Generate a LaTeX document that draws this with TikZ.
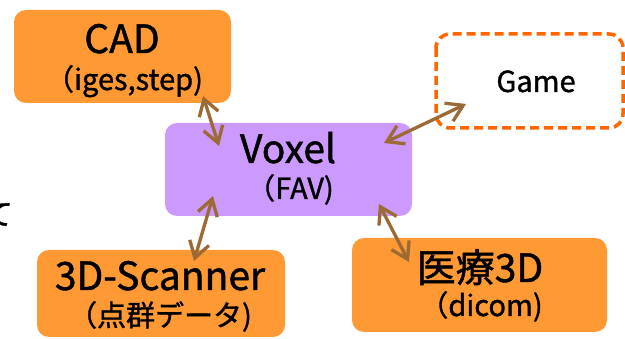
\documentclass[tikz,border=0pt]{standalone}
\usepackage{fontspec}
\setmainfont{Noto Sans CJK JP}[UprightFeatures={FakeBold=1.2}]
\usetikzlibrary{arrows.meta}
\definecolor{boxorange}{HTML}{FF9933}
\definecolor{boxviolet}{HTML}{CC99FF}
\definecolor{dashorange}{HTML}{FF6600}
\definecolor{arrowbrown}{HTML}{9C6A34}
\tikzset{
  obox/.style={fill=boxorange, draw=none, rounded corners=12pt},
  vbox/.style={fill=boxviolet, draw=none, rounded corners=12pt},
  gbox/.style={draw=dashorange, line width=3.5pt, dash pattern=on 9pt off 5pt, rounded corners=14pt},
  title/.style={anchor=base, inner sep=0pt, font=\fontsize{39}{44}\selectfont},
  sub/.style={anchor=base, inner sep=0pt, font=\fontsize{29}{33}\selectfont},
  conn/.style={draw=arrowbrown, line width=3.3pt, line cap=round, line join=round,
    {Straight Barb[length=16pt,width=20pt]}-{Straight Barb[length=16pt,width=20pt]}},
}
\begin{document}
\begin{tikzpicture}[x=1pt,y=-1pt]
\clip (0,0) rectangle (625,339);
\fill[white] (0,0) rectangle (625,339);
% boxes
\path[obox] (14,10) rectangle (231,103);
\path[vbox] (165,123) rectangle (412,216);
\draw[gbox] (436,34) rectangle (623,128);
\path[obox] (37,250) rectangle (285,337);
\path[obox] (352,238) rectangle (607,332);
% texts
\node[title] (cad) at (122,53) {CAD};
\node[sub] (cadsub) at (124,90) {（iges,step)};
\node[title] (voxel) at (288,163) {Voxel};
\node[sub] (voxelsub) at (290,199) {（FAV)};
\node[anchor=base, inner sep=0pt, font=\fontsize{29}{33}\selectfont] (game) at (536,92) {Game};
\node[title] (scan) at (160,290) {3D-Scanner};
\node[sub] (scansub) at (160,326) {（点群データ)};
\node[title] (med) at (480,282) {医療3D};
\node[sub] (medsub) at (481,316) {（dicom)};
\node[anchor=base, inner sep=0pt, font=\fontsize{30}{34}\selectfont] (te) at (-2,225) {て};
% connector ends
\coordinate (cadA) at (203,96);
\coordinate (cadB) at (219,146);
\coordinate (gameA) at (384,143);
\coordinate (gameB) at (466,104);
\coordinate (scanA) at (213,196);
\coordinate (scanB) at (194,261);
\coordinate (medA) at (379,204);
\coordinate (medB) at (409,262);
\draw[conn] (cadA) -- (cadB);
\draw[conn] (gameA) -- (gameB);
\draw[conn] (scanA) -- (scanB);
\draw[conn] (medA) -- (medB);
\end{tikzpicture}
\end{document}
